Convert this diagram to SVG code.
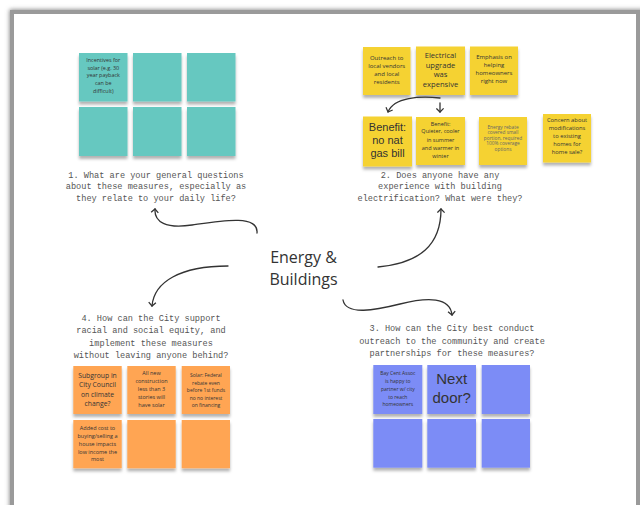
<svg xmlns="http://www.w3.org/2000/svg" width="640" height="505" viewBox="0 0 640 505">
<defs>
<filter id="frameShadow" x="-5%" y="-5%" width="110%" height="110%">
<feGaussianBlur stdDeviation="2"/>
</filter>
<filter id="sh" x="-20%" y="-20%" width="140%" height="150%">
<feDropShadow dx="0" dy="3" stdDeviation="1.6" flood-color="#000" flood-opacity="0.3"/>
</filter>
<marker id="arrE" viewBox="0 0 10 10" refX="9" refY="5" markerWidth="9" markerHeight="9" markerUnits="userSpaceOnUse" orient="auto">
<path d="M5,1 L9,5 L5,9" fill="none" stroke="#333" stroke-width="1.4"/>
</marker>
</defs>
<style>
.q{font-family:"Liberation Mono",monospace;font-size:8.6px;fill:#555;text-anchor:middle}
.t{font-family:"Open Sans","Liberation Sans",sans-serif;fill:#333;text-anchor:middle}
.b{font-family:"Liberation Sans",Arial,sans-serif;fill:#333;text-anchor:middle}
.teal{fill:#66C8C0}
.yel{fill:#F5D232}
.org{fill:#FFA553}
.blu{fill:#7C8CF6}
.con{fill:none;stroke:#333;stroke-width:1.3;stroke-linecap:round}
</style>
<rect x="0" y="0" width="640" height="505" fill="#fff"/>
<g id="frame">
<rect x="12" y="12" width="632" height="500" fill="none" stroke="#888" stroke-width="5" filter="url(#frameShadow)"/>
<rect x="12" y="12" width="626" height="500" fill="#fff" stroke="#9a9a9a" stroke-width="4"/>
</g>

<g id="title">
<text class="t" x="303.5" y="263" font-size="16">Energy &amp;</text>
<text class="t" x="303.5" y="284.5" font-size="16">Buildings</text>
</g>

<g id="q1"><text class="q" x="156" y="178">1. What are your general questions</text><text class="q" x="156" y="189.3">about these measures, especially as</text><text class="q" x="156" y="200.5">they relate to your daily life?</text></g>
<g id="q2"><text class="q" x="440" y="178">2. Does anyone have any</text><text class="q" x="440" y="189.3">experience with building</text><text class="q" x="440" y="200.5">electrification? What were they?</text></g>
<g id="q4"><text class="q" x="151" y="321">4. How can the City support</text><text class="q" x="151" y="333.4">racial and social equity, and</text><text class="q" x="151" y="345.8">implement these measures</text><text class="q" x="151" y="358">without leaving anyone behind?</text></g>
<g id="q3"><text class="q" x="452" y="331">3. How can the City best conduct</text><text class="q" x="452" y="343.5">outreach to the community and create</text><text class="q" x="452" y="356">partnerships for these measures?</text></g>

<g id="teal1"><rect class="teal" x="79" y="53" width="48.5" height="48.5" filter="url(#sh)"/>
<text class="t" font-size="5.4"><tspan x="103.3" y="62">Incentives for</tspan><tspan x="103.3" y="69.5">solar (e.g. 30</tspan><tspan x="103.3" y="77">year payback</tspan><tspan x="103.3" y="85">can be</tspan><tspan x="103.3" y="93">difficult)</tspan></text></g>
<g id="teal2"><rect class="teal" x="133" y="53" width="48.5" height="48.5" filter="url(#sh)"/></g>
<g id="teal3"><rect class="teal" x="187" y="53" width="48.5" height="48.5" filter="url(#sh)"/></g>
<g id="teal4"><rect class="teal" x="79" y="107" width="48.5" height="49" filter="url(#sh)"/></g>
<g id="teal5"><rect class="teal" x="133" y="107" width="48.5" height="49" filter="url(#sh)"/></g>
<g id="teal6"><rect class="teal" x="187" y="107" width="48.5" height="49" filter="url(#sh)"/></g>

<g id="yel1"><rect class="yel" x="363" y="47" width="47.5" height="48" filter="url(#sh)"/>
<text class="t" font-size="6"><tspan x="386.7" y="60.3">Outreach to</tspan><tspan x="386.7" y="68.3">local vendors</tspan><tspan x="386.7" y="76.3">and local</tspan><tspan x="386.7" y="84.3">residents</tspan></text></g>
<g id="yel2"><rect class="yel" x="416" y="46.5" width="49" height="48.5" filter="url(#sh)"/>
<text class="t" font-size="7.6"><tspan x="440.5" y="58">Electrical</tspan><tspan x="440.5" y="67.5">upgrade</tspan><tspan x="440.5" y="77">was</tspan><tspan x="440.5" y="86.5">expensive</tspan></text></g>
<g id="yel3"><rect class="yel" x="470" y="46.5" width="48" height="48.5" filter="url(#sh)"/>
<text class="t" font-size="6"><tspan x="494" y="59">Emphasis on</tspan><tspan x="494" y="67">helping</tspan><tspan x="494" y="75">homeowners</tspan><tspan x="494" y="83">right now</tspan></text></g>
<g id="yel4"><rect class="yel" x="363" y="116.5" width="49" height="50" filter="url(#sh)"/>
<text class="b" font-size="11"><tspan x="387.5" y="130.7">Benefit:</tspan><tspan x="387.5" y="144">no nat</tspan><tspan x="387.5" y="157.3">gas bill</tspan></text></g>
<g id="yel5"><rect class="yel" x="416" y="117" width="49" height="48" filter="url(#sh)"/>
<text class="t" font-size="5.5"><tspan x="440.5" y="126">Benefit:</tspan><tspan x="440.5" y="133">Quieter, cooler</tspan><tspan x="440.5" y="141.5">in summer</tspan><tspan x="440.5" y="150">and warmer in</tspan><tspan x="440.5" y="158">winter</tspan></text></g>
<g id="yel6"><rect class="yel" x="479" y="117" width="48" height="48" filter="url(#sh)"/>
<text class="t" font-size="4.8" style="fill:#666"><tspan x="503" y="128.7">Energy rebate</tspan><tspan x="503" y="134.2">covered small</tspan><tspan x="503" y="139.7">portion, required</tspan><tspan x="503" y="145.2">100% coverage</tspan><tspan x="503" y="150.7">options</tspan></text></g>
<g id="yel7"><rect class="yel" x="543" y="114" width="48" height="48.5" filter="url(#sh)"/>
<text class="t" font-size="5.8"><tspan x="567" y="122">Concern about</tspan><tspan x="567" y="130">modifications</tspan><tspan x="567" y="138">to existing</tspan><tspan x="567" y="146">homes for</tspan><tspan x="567" y="154">home sale?</tspan></text></g>

<g id="org1"><rect class="org" x="73.3" y="366" width="48.4" height="48" filter="url(#sh)"/>
<text class="t" font-size="6.8"><tspan x="97.5" y="377.5">Subgroup in</tspan><tspan x="97.5" y="387">City Council</tspan><tspan x="97.5" y="396.5">on climate</tspan><tspan x="97.5" y="406">change?</tspan></text></g>
<g id="org2"><rect class="org" x="127.3" y="366" width="48.4" height="48" filter="url(#sh)"/>
<text class="t" font-size="5.5"><tspan x="151.5" y="375.3">All new</tspan><tspan x="151.5" y="383.3">construction</tspan><tspan x="151.5" y="391.3">less than 3</tspan><tspan x="151.5" y="399.3">stories will</tspan><tspan x="151.5" y="407.3">have solar</tspan></text></g>
<g id="org3"><rect class="org" x="181.7" y="366" width="48.3" height="48" filter="url(#sh)"/>
<text class="t" font-size="5"><tspan x="206" y="377">Solar: Federal</tspan><tspan x="206" y="384.5">rebate even</tspan><tspan x="206" y="392">before 1st funds</tspan><tspan x="206" y="399.5">no no interest</tspan><tspan x="206" y="407">on financing</tspan></text></g>
<g id="org4"><rect class="org" x="73.3" y="420" width="48.4" height="48.3" filter="url(#sh)"/>
<text class="t" font-size="5.5"><tspan x="97.5" y="430.3">Added cost to</tspan><tspan x="97.5" y="438">buying/selling a</tspan><tspan x="97.5" y="446">house impacts</tspan><tspan x="97.5" y="453.7">low income the</tspan><tspan x="97.5" y="461.3">most</tspan></text></g>
<g id="org5"><rect class="org" x="127.3" y="420" width="48.4" height="48.3" filter="url(#sh)"/></g>
<g id="org6"><rect class="org" x="181.7" y="420" width="48.3" height="48.3" filter="url(#sh)"/></g>

<g id="blu1"><rect class="blu" x="373.3" y="365" width="49" height="49" filter="url(#sh)"/>
<text class="t" font-size="5"><tspan x="397.8" y="374.5">Bay Cent Assoc</tspan><tspan x="397.8" y="382.5">is happy to</tspan><tspan x="397.8" y="390.8">partner w/ city</tspan><tspan x="397.8" y="398.5">to reach</tspan><tspan x="397.8" y="406.2">homeowners</tspan></text></g>
<g id="blu2"><rect class="blu" x="427.3" y="365" width="48.7" height="49" filter="url(#sh)"/>
<text class="b" font-size="15"><tspan x="451.7" y="384">Next</tspan><tspan x="451.7" y="403">door?</tspan></text></g>
<g id="blu3"><rect class="blu" x="481.7" y="365" width="48.3" height="49" filter="url(#sh)"/></g>
<g id="blu4"><rect class="blu" x="373.3" y="419" width="49" height="48.7" filter="url(#sh)"/></g>
<g id="blu5"><rect class="blu" x="427.3" y="419" width="48.7" height="48.7" filter="url(#sh)"/></g>
<g id="blu6"><rect class="blu" x="481.7" y="419" width="48.3" height="48.7" filter="url(#sh)"/></g>

<g id="connectors">
<path class="con" d="M257,233 C259,214 220,221 192,225 C166,229 154,222 155,209" marker-end="url(#arrE)"/>
<path class="con" d="M378,267 C420,263 441,245 441,209" marker-end="url(#arrE)"/>
<path class="con" d="M228,266 C180,266 154,282 152,306" marker-end="url(#arrE)"/>
<path class="con" d="M343,300 C346,316 376,310 400,304 C428,297 450,297 452,315" marker-end="url(#arrE)"/>
<path class="con" d="M440,98 C420,96 394,97 388,112" marker-end="url(#arrE)"/>
<path class="con" d="M440,103 L440,112" marker-end="url(#arrE)"/>
</g>
</svg>
